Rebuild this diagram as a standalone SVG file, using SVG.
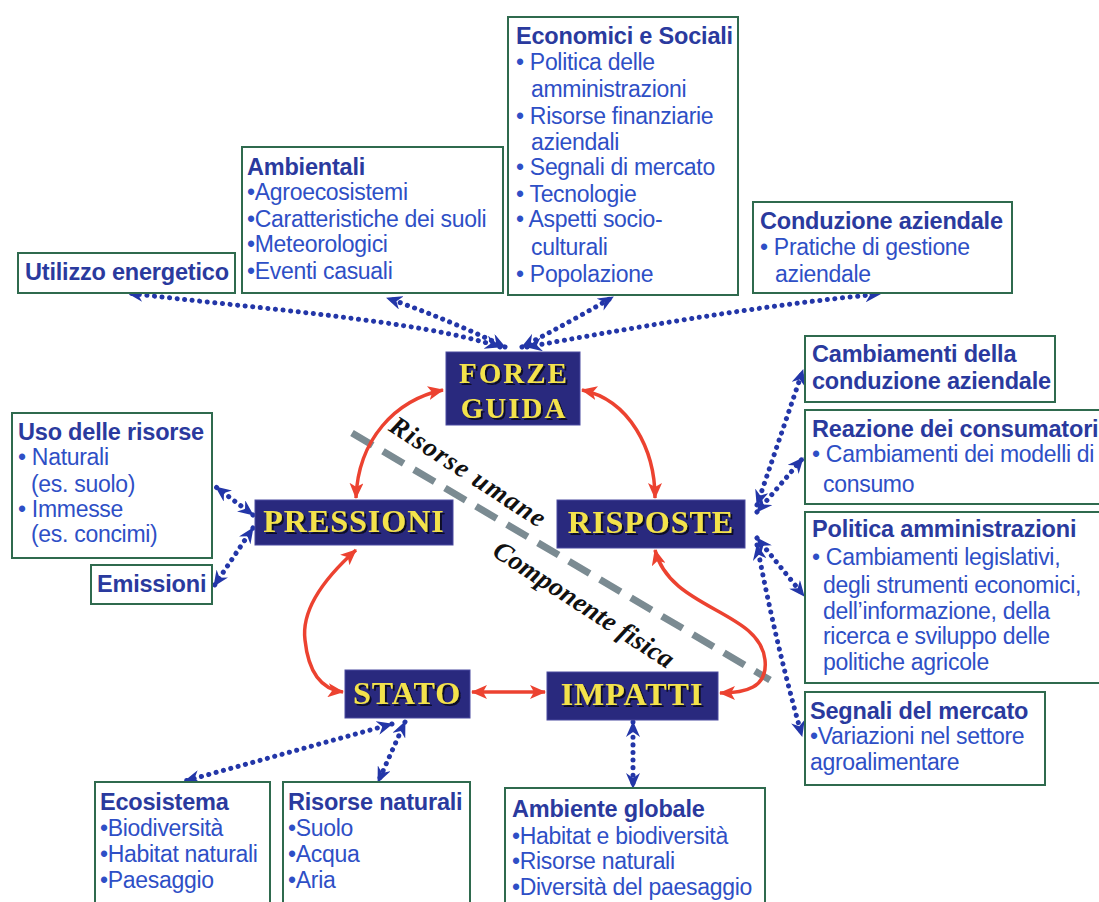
<svg xmlns="http://www.w3.org/2000/svg" width="1099" height="902" viewBox="0 0 1099 902">
<style>
.box{fill:#ffffff;stroke:#2f6a4e;stroke-width:2}
.t{font-family:"Liberation Sans",Arial,sans-serif;font-size:23.5px;font-weight:bold;fill:#2a3a9e;letter-spacing:-0.2px}
.i{font-family:"Liberation Sans",Arial,sans-serif;font-size:23px;fill:#2e4fc6;letter-spacing:-0.3px}
.node{fill:#29297e;stroke:#4a4aa0;stroke-width:1}
.nt{font-family:"Liberation Serif","Times New Roman",serif;font-size:32px;font-weight:bold;fill:#f3e24c;text-anchor:middle;letter-spacing:1px;filter:url(#sh)}
.nf{font-size:29px;letter-spacing:2px}
.red{fill:none;stroke:#ec4230;stroke-width:3.5;marker-start:url(#ra);marker-end:url(#ra)}
.dot{fill:none;stroke:#2336a8;stroke-width:5;stroke-linecap:round;stroke-dasharray:0.1 7.5;marker-start:url(#ba);marker-end:url(#ba)}
.lbl{font-family:"Liberation Serif","Times New Roman",serif;font-size:27px;font-weight:bold;font-style:italic;fill:#111111}
</style>
<defs>
<filter id="sh" x="-10%" y="-20%" width="130%" height="150%"><feDropShadow dx="2" dy="2" stdDeviation="0.6" flood-color="#0c0c28" flood-opacity="1"/></filter>
<marker id="ba" viewBox="0 0 16 14" refX="15" refY="7" markerWidth="16" markerHeight="14" markerUnits="userSpaceOnUse" orient="auto-start-reverse"><path d="M0,0 L16,7 L0,14 L5,7 z" fill="#2336a8"/></marker>
<marker id="ra" viewBox="0 0 16 14" refX="15" refY="7" markerWidth="16" markerHeight="14" markerUnits="userSpaceOnUse" orient="auto-start-reverse"><path d="M0,0 L16,7 L0,14 L4,7 z" fill="#ec4230"/></marker>
</defs>
<rect width="1099" height="902" fill="#ffffff"/>

<!-- divider line and labels -->
<g id="divider">
<line x1="352" y1="433" x2="770" y2="680" stroke="#7b8b92" stroke-width="7" stroke-dasharray="24 12"/>
<text class="lbl" transform="translate(463,479) rotate(33)" text-anchor="middle" textLength="180">Risorse umane</text>
<text class="lbl" transform="translate(579,612) rotate(33)" text-anchor="middle" textLength="210">Componente fisica</text>
</g>

<g id="connectors">
<!-- red cycle -->
<path class="red" d="M443 390 C395 400 358 440 356 498"/>
<path class="red" d="M582 390 C630 400 655 450 655 498"/>
<path class="red" d="M356 550 Q300 600 305 640 Q310 688 343 692"/>
<path class="red" d="M472 692 L545 692"/>
<path class="red" d="M655 550 C670 610 760 610 765 660 C768 688 745 693 720 693"/>
<!-- blue dotted -->
<path class="dot" d="M500 347 C420 320 250 308 128 293"/>
<path class="dot" d="M505 347 Q450 320 387 298"/>
<path class="dot" d="M522 347 Q570 322 613 297"/>
<path class="dot" d="M527 347 C620 330 760 305 880 294"/>
<path class="dot" d="M253 515 L216 487"/>
<path class="dot" d="M253 528 L214 586"/>
<path class="dot" d="M757 505 L803 370"/>
<path class="dot" d="M757 512 L803 458"/>
<path class="dot" d="M757 538 L804 596"/>
<path class="dot" d="M757 545 Q775 640 802 736"/>
<path class="dot" d="M392 724 L185 781"/>
<path class="dot" d="M405 722 L378 782"/>
<path class="dot" d="M633 722 L633 788"/>
</g>

<!-- main nodes -->
<g id="forze">
<rect class="node" x="446" y="352" width="134" height="73"/>
<text class="nt nf" x="514" y="383">FORZE</text>
<text class="nt nf" x="514" y="418">GUIDA</text>
</g>
<g id="pressioni">
<rect class="node" x="255" y="500" width="198" height="45"/>
<text class="nt" x="354" y="532">PRESSIONI</text>
</g>
<g id="risposte">
<rect class="node" x="557" y="500" width="188" height="48"/>
<text class="nt" x="651" y="533">RISPOSTE</text>
</g>
<g id="stato">
<rect class="node" x="345" y="670" width="125" height="48"/>
<text class="nt" x="407" y="704">STATO</text>
</g>
<g id="impatti">
<rect class="node" x="547" y="672" width="171" height="48"/>
<text class="nt" x="632" y="705">IMPATTI</text>
</g>

<!-- text boxes -->
<g id="utilizzo">
<rect class="box" x="18" y="253" width="217" height="40"/>
<text class="t" x="25" y="280">Utilizzo energetico</text>
</g>
<g id="ambientali">
<rect class="box" x="242" y="147" width="261" height="146"/>
<text class="t" x="247" y="175">Ambientali</text>
<text class="i" x="247" y="200">•Agroecosistemi</text>
<text class="i" x="247" y="227">•Caratteristiche dei suoli</text>
<text class="i" x="247" y="252">•Meteorologici</text>
<text class="i" x="247" y="279">•Eventi casuali</text>
</g>
<g id="economici">
<rect class="box" x="508" y="17" width="230" height="278"/>
<text class="t" x="516" y="44">Economici e Sociali</text>
<text class="i" x="516" y="70">• Politica delle</text>
<text class="i" x="531" y="97">amministrazioni</text>
<text class="i" x="516" y="124">• Risorse finanziarie</text>
<text class="i" x="531" y="150">aziendali</text>
<text class="i" x="516" y="175">• Segnali di mercato</text>
<text class="i" x="516" y="202">• Tecnologie</text>
<text class="i" x="516" y="227">• Aspetti socio-</text>
<text class="i" x="531" y="255">culturali</text>
<text class="i" x="516" y="282">• Popolazione</text>
</g>
<g id="conduzione">
<rect class="box" x="753" y="202" width="259" height="91"/>
<text class="t" x="760" y="229">Conduzione aziendale</text>
<text class="i" x="760" y="255">• Pratiche di gestione</text>
<text class="i" x="775" y="282">aziendale</text>
</g>
<g id="cambiamenti">
<rect class="box" x="805" y="336" width="250" height="66"/>
<text class="t" x="812" y="362">Cambiamenti della</text>
<text class="t" x="812" y="389">conduzione aziendale</text>
</g>
<g id="reazione">
<rect class="box" x="805" y="410" width="300" height="94"/>
<text class="t" x="812" y="437">Reazione dei consumatori</text>
<text class="i" x="812" y="462">• Cambiamenti dei modelli di</text>
<text class="i" x="823" y="492">consumo</text>
</g>
<g id="politica">
<rect class="box" x="805" y="512" width="300" height="171"/>
<text class="t" x="812" y="537">Politica amministrazioni</text>
<text class="i" x="812" y="565">• Cambiamenti legislativi,</text>
<text class="i" x="823" y="593">degli strumenti economici,</text>
<text class="i" x="823" y="619">dell’informazione, della</text>
<text class="i" x="823" y="644">ricerca e sviluppo delle</text>
<text class="i" x="823" y="670">politiche agricole</text>
</g>
<g id="segnali">
<rect class="box" x="805" y="692" width="240" height="93"/>
<text class="t" x="810" y="719">Segnali del mercato</text>
<text class="i" x="810" y="744">•Variazioni nel settore</text>
<text class="i" x="810" y="770">agroalimentare</text>
</g>
<g id="uso">
<rect class="box" x="12" y="413" width="200" height="145"/>
<text class="t" x="18" y="440">Uso delle risorse</text>
<text class="i" x="18" y="465">• Naturali</text>
<text class="i" x="31" y="492">(es. suolo)</text>
<text class="i" x="18" y="517">• Immesse</text>
<text class="i" x="31" y="542">(es. concimi)</text>
</g>
<g id="emissioni">
<rect class="box" x="91" y="565" width="121" height="39"/>
<text class="t" x="97" y="592">Emissioni</text>
</g>
<g id="ecosistema">
<rect class="box" x="95" y="782" width="175" height="130"/>
<text class="t" x="100" y="810">Ecosistema</text>
<text class="i" x="100" y="836">•Biodiversità</text>
<text class="i" x="100" y="862">•Habitat naturali</text>
<text class="i" x="100" y="888">•Paesaggio</text>
</g>
<g id="risorse-naturali">
<rect class="box" x="283" y="782" width="187" height="130"/>
<text class="t" x="288" y="810">Risorse naturali</text>
<text class="i" x="288" y="836">•Suolo</text>
<text class="i" x="288" y="862">•Acqua</text>
<text class="i" x="288" y="888">•Aria</text>
</g>
<g id="ambiente-globale">
<rect class="box" x="505" y="788" width="260" height="124"/>
<text class="t" x="512" y="817">Ambiente globale</text>
<text class="i" x="512" y="844">•Habitat e biodiversità</text>
<text class="i" x="512" y="869">•Risorse naturali</text>
<text class="i" x="512" y="895">•Diversità del paesaggio</text>
</g>
</svg>
